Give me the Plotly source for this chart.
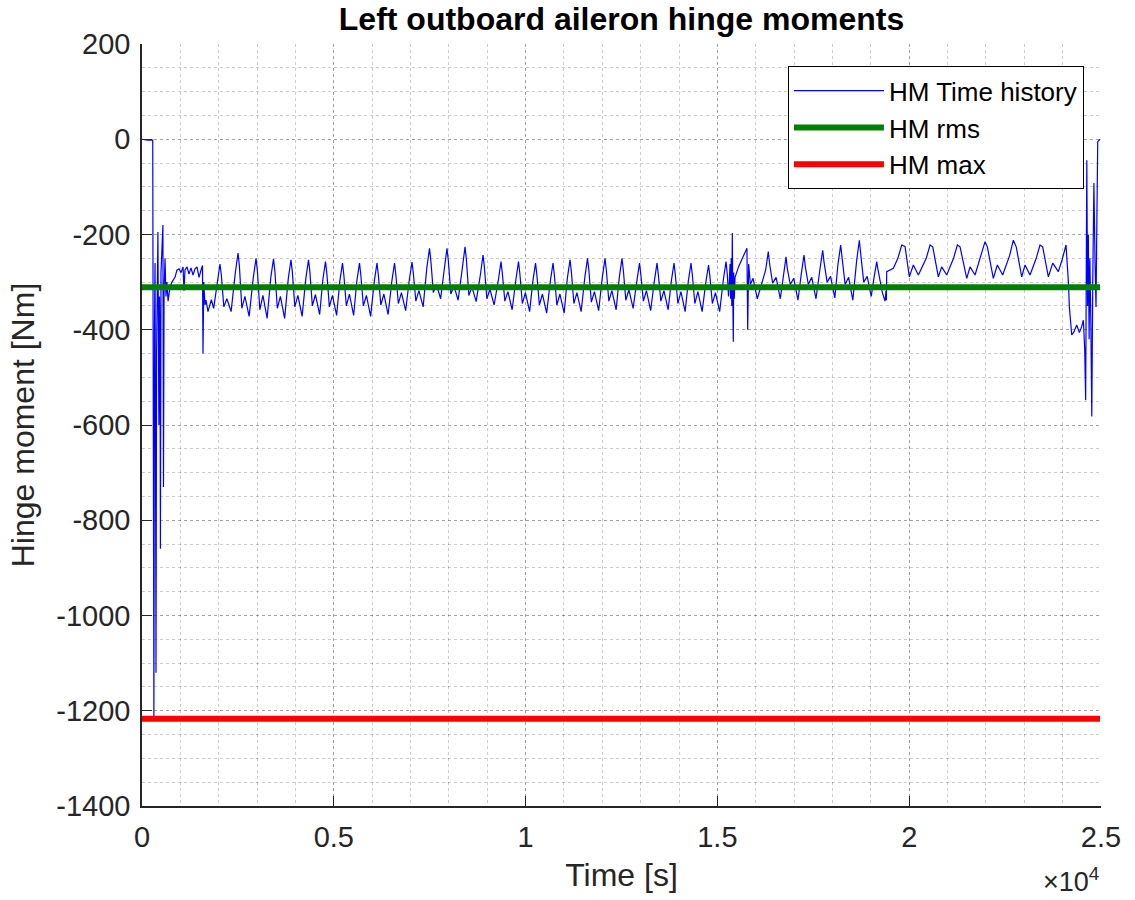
import plotly.graph_objects as go

# ---- Hinge moment time history, left outboard aileron ----
# Start-up: zero load, then the large transient after engagement
t_startup = [0, 150, 280, 300, 310, 325, 340, 352, 365, 380, 395, 415, 440, 455,
             470, 480, 495, 520, 545, 560, 575, 600, 625, 650, 680, 730, 780, 860, 910]
hm_startup = [0, -2, -2, -600, -1217, -400, -260, -630, -1120, -450, -300, -195, -600, -330,
              -420, -860, -280, -210, -180, -730, -320, -250, -330, -300, -340, -310, -300, -290, -275]

# Short settled plateau before the cyclic loading starts
t_plateau = [965, 1017, 1070, 1095, 1120, 1173, 1225, 1277, 1330, 1382, 1434, 1486, 1538, 1577,
             1590, 1610, 1642, 1668, 1720, 1808, 1868]
hm_plateau = [-272, -280, -268, -318, -275, -268, -283, -270, -285, -272, -268, -290, -275, -265,
              -450, -300, -348, -338, -362, -337, -355]

# Cyclic phase 1: per cycle rise shoulder, peak, fall shoulder, trough, bump, trough
t_cycles_1 = [
    1963, 2033, 2068, 2133, 2213, 2323, 2433, 2503, 2538, 2603, 2683, 2793,
    2902, 2972, 3007, 3072, 3152, 3262, 3358, 3428, 3463, 3528, 3608, 3718,
    3814, 3884, 3919, 3984, 4064, 4174, 4271, 4341, 4376, 4441, 4521, 4631,
    4714, 4784, 4819, 4884, 4964, 5074, 5157, 5227, 5262, 5327, 5407, 5517,
    5600, 5670, 5705, 5770, 5850, 5960, 6056, 6126, 6161, 6226, 6306, 6416,
    6513, 6583, 6618, 6683, 6763, 6873, 6969, 7039, 7074, 7139, 7219, 7329,
    7425, 7495, 7530, 7595, 7675, 7785, 7881, 7951, 7986, 8051, 8131, 8241,
    8351, 8421, 8456, 8521, 8601, 8711, 8820, 8890, 8925, 8990, 9070, 9180,
    9289, 9359, 9394, 9459, 9539, 9649, 9745, 9815, 9850, 9915, 9995, 10105,
    10189, 10259, 10294, 10359, 10439, 10549, 10645, 10715, 10750, 10815, 10895, 11005,
    11088, 11158, 11193, 11258, 11338, 11448, 11544, 11614, 11649, 11714, 11794, 11904,
    12000, 12070, 12105, 12170, 12250, 12360, 12443, 12513, 12548, 12613, 12693, 12803,
    12900, 12970, 13005, 13070, 13150, 13260, 13356, 13426, 13461, 13526, 13606, 13716,
    13799, 13869, 13904, 13969, 14049, 14159, 14242, 14312, 14347, 14412, 14492, 14602,
    14699, 14769, 14804, 14869, 14949, 15059, 15155, 15225, 15260]
hm_cycles_1 = [
    -300, -262, -285, -352, -335, -362, -280, -239, -265, -355, -330, -372,
    -290, -250, -275, -358, -328, -376, -290, -251, -276, -355, -330, -376,
    -292, -253, -278, -352, -328, -372, -292, -253, -278, -350, -326, -368,
    -295, -257, -282, -352, -328, -370, -298, -260, -285, -350, -325, -370,
    -298, -260, -285, -350, -328, -372, -298, -260, -285, -348, -325, -368,
    -298, -260, -285, -345, -322, -360, -295, -258, -282, -340, -318, -352,
    -270, -229, -255, -322, -305, -335, -272, -229, -255, -325, -308, -338,
    -270, -226, -252, -328, -310, -341, -285, -243, -268, -335, -315, -348,
    -296, -257, -282, -340, -320, -358, -296, -257, -282, -345, -322, -362,
    -298, -260, -285, -348, -325, -365, -298, -260, -285, -348, -325, -365,
    -292, -253, -278, -345, -322, -362, -290, -250, -275, -342, -320, -360,
    -290, -250, -275, -340, -318, -358, -290, -250, -275, -338, -316, -355,
    -298, -260, -285, -340, -318, -360, -298, -260, -285, -340, -318, -358,
    -298, -260, -285, -345, -320, -362, -298, -260, -285, -345, -320, -362,
    -300, -264, -288, -345, -322, -362, -295, -257, -285]

# Disturbance around 1.53e4 s and recovery
t_disturb = [15290, 15310, 15330, 15345, 15360, 15375, 15389, 15400, 15415, 15425, 15440, 15460,
             15550, 15650, 15720, 15770, 15790, 15815, 15860, 15930, 16040]
hm_disturb = [-330, -300, -262, -335, -250, -350, -197, -320, -425, -280, -335, -290,
              -268, -250, -238, -229, -400, -262, -305, -292, -335]

# Cyclic phase 2
t_cycles_2 = [16257, 16327, 16362, 16440, 16530, 16640,
              16719, 16789, 16824, 16900, 16990, 17100,
              17188, 17258, 17293, 17370, 17460, 17570,
              17675, 17745, 17780, 17860, 17950, 18060,
              18144, 18214, 18249, 18330, 18420, 18530,
              18630, 18700, 18735, 18815, 18905, 19010,
              19084, 19154, 19189, 19240, 19300, 19370, 19395, 19405]
hm_cycles_2 = [-275, -236, -262, -302, -290, -335,
               -285, -247, -272, -305, -292, -338,
               -282, -243, -268, -305, -290, -335,
               -272, -233, -258, -300, -288, -333,
               -262, -222, -248, -305, -290, -338,
               -255, -212, -240, -300, -288, -330,
               -290, -257, -275, -300, -322, -340, -318, -338]

# Cyclic phase 3 (longer period, lighter load)
t_cycles_3 = [19414, 19587, 19705, 19805, 19891, 20004, 20108, 20239,
              20444, 20544, 20614, 20760, 20847, 20978,
              21156, 21256, 21325, 21500, 21586, 21716,
              21877, 21977, 22037, 22193, 22298, 22437,
              22615, 22715, 22790, 22933, 23020, 23150,
              23311, 23411, 23480, 23628, 23742, 23888, 23990, 24088]
hm_cycles_3 = [-278, -271, -250, -222, -225, -289, -264, -285,
               -250, -222, -226, -289, -268, -285,
               -250, -222, -226, -292, -268, -285,
               -245, -215, -226, -292, -264, -285,
               -245, -212, -226, -289, -264, -285,
               -250, -222, -226, -289, -260, -278, -252, -222]

# Shut-down transient back to zero
t_shutdown = [24149, 24175, 24237, 24297, 24367, 24436, 24498, 24540, 24575, 24600, 24615,
              24630, 24650, 24670, 24690, 24710, 24735, 24760, 24785, 24815, 24845, 24870,
              24895, 24915, 24975]
hm_shutdown = [-299, -352, -411, -404, -390, -406, -393, -380, -440, -548, -300,
               -44, -350, -200, -420, -250, -380, -582, -300, -92, -260, -352,
               -150, -5, 0]

# Summary levels
HM_RMS = -311
HM_MAX = -1217

x_tick_vals = [0, 5000, 10000, 15000, 20000, 25000]
x_tick_text = ["0", "0.5", "1", "1.5", "2", "2.5"]
y_tick_vals = [200, 0, -200, -400, -600, -800, -1000, -1200, -1400]
y_tick_text = ["200", "0", "-200", "-400", "-600", "-800", "-1000", "-1200", "-1400"]

t = t_startup + t_plateau + t_cycles_1 + t_disturb + t_cycles_2 + t_cycles_3 + t_shutdown
hm = hm_startup + hm_plateau + hm_cycles_1 + hm_disturb + hm_cycles_2 + hm_cycles_3 + hm_shutdown

FONT = "Liberation Sans, Arial, Helvetica, sans-serif"
AXIS_COLOR = "#262626"
GRID_COLOR = "rgba(0,0,0,0.2)"

fig = go.Figure()
fig.add_trace(go.Scatter(x=t, y=hm, mode="lines", name="HM Time history",
                         line=dict(color="rgb(0,0,255)", width=1.2)))
fig.add_trace(go.Scatter(x=[t[0], t[-1]], y=[HM_RMS, HM_RMS], mode="lines", name="HM rms",
                         line=dict(color="rgb(0,128,0)", width=6)))
fig.add_trace(go.Scatter(x=[t[0], t[-1]], y=[HM_MAX, HM_MAX], mode="lines", name="HM max",
                         line=dict(color="rgb(255,0,0)", width=6)))

axis_common = dict(
    showline=True, linecolor=AXIS_COLOR, linewidth=1.5, mirror=False,
    ticks="inside", ticklen=10, tickwidth=1.2, tickcolor=AXIS_COLOR,
    showgrid=True, gridcolor=GRID_COLOR, griddash="dot", gridwidth=1,
    zeroline=False, tickfont=dict(family=FONT, size=29, color=AXIS_COLOR),
)

fig.update_xaxes(
    range=[0, 25000], tickmode="array", tickvals=x_tick_vals, ticktext=x_tick_text,
    minor=dict(dtick=1000, tick0=0, showgrid=True, gridcolor=GRID_COLOR, griddash="dot",
               gridwidth=1, ticks=""),
    title=dict(text="Time [s]", font=dict(family=FONT, size=32, color=AXIS_COLOR), standoff=12),
    ticklabelstandoff=4,
    **axis_common,
)
fig.update_yaxes(
    range=[-1400, 200], tickmode="array", tickvals=y_tick_vals, ticktext=y_tick_text,
    minor=dict(dtick=50, tick0=0, showgrid=True, gridcolor=GRID_COLOR, griddash="dot",
               gridwidth=1, ticks=""),
    title=dict(text="Hinge moment [Nm]", font=dict(family=FONT, size=32, color=AXIS_COLOR), standoff=12),
    ticklabelstandoff=4,
    **axis_common,
)

fig.update_layout(
    width=1135, height=900,
    margin=dict(l=142, r=34, t=44, b=94),
    paper_bgcolor="white", plot_bgcolor="white",
    title=dict(text="<b>Left outboard aileron hinge moments</b>",
               font=dict(family=FONT, size=32, color="black"),
               x=0.5, xref="paper", xanchor="center",
               y=1 - 19 / 900, yref="container", yanchor="middle"),
    legend=dict(x=0.982, y=0.971, xanchor="right", yanchor="top",
                bgcolor="white", bordercolor="black", borderwidth=1.2,
                font=dict(family=FONT, size=26, color="black"),
                itemwidth=90, tracegroupgap=0),
    showlegend=True,
)

fig.add_annotation(text="\u00d710<sup>4</sup>", xref="paper", yref="paper",
                   x=1.0, y=-0.097, xanchor="right", yanchor="middle", showarrow=False,
                   font=dict(family=FONT, size=27, color=AXIS_COLOR))

fig.write_html("out.html")
